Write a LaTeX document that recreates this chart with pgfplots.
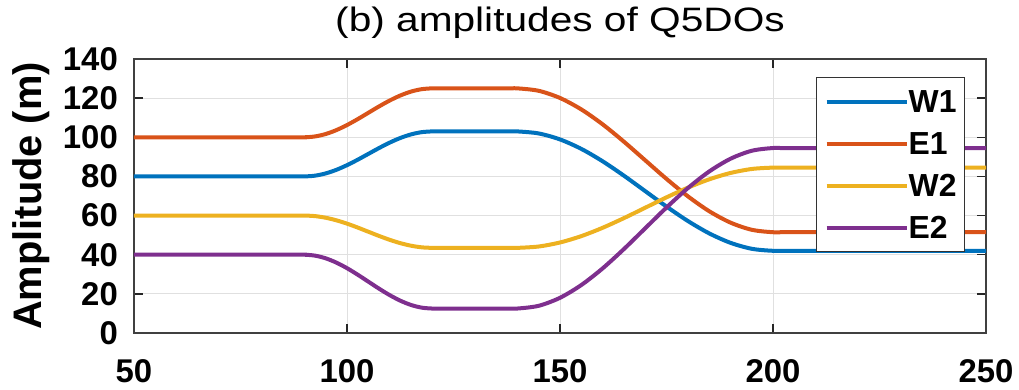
\documentclass[border=0pt]{standalone}
\usepackage{fontspec}
\setmainfont{Liberation Sans}
\newfontfamily\titlefont[FakeStretch=1.2]{Liberation Sans}
\usepackage{pgfplots}
\pgfplotsset{compat=1.18}
\definecolor{mblue}{rgb}{0,0.447,0.741}
\definecolor{morange}{rgb}{0.85,0.325,0.098}
\definecolor{myellow}{rgb}{0.929,0.694,0.125}
\definecolor{mpurple}{rgb}{0.494,0.184,0.556}
\begin{document}
\begin{tikzpicture}
\begin{axis}[
  scale only axis, width=852bp, height=274bp,
  xmin=50, xmax=250, ymin=0, ymax=140,
  xtick={50,100,...,250}, ytick={0,20,...,140},
  /pgf/number format/assume math mode=true,
  tick align=inside, major tick length=9bp,
  tick style={line width=1.5bp, color=black!85},
  axis line style={line width=1.5bp, color=black!75},
  grid=major, major grid style={line width=1bp, color=black!12},
  ticklabel style={font=\bfseries\fontsize{33}{33}\selectfont, inner sep=0pt},
  xticklabel style={anchor=base, yshift=-49bp},
  yticklabel style={anchor=east, xshift=-16bp},
  title={(b) amplitudes of Q5DOs},
  title style={font=\titlefont\fontsize{34}{34}\selectfont, at={(0.5,1)}, anchor=base, yshift=22bp, inner sep=0pt},
  ylabel={Amplitude (m)},
  ylabel style={font=\bfseries\fontsize{40}{40}\selectfont, at={(axis description cs:-0.108,0.5)}, anchor=base, inner sep=0pt},
  legend style={at={(0.9754,0.934)}, anchor=north east, draw=black!80, line width=1bp,
    font=\bfseries\fontsize{32}{32}\selectfont, inner xsep=8bp, inner ysep=13bp, row sep=20bp,
    nodes={inner sep=0pt, text height=22bp, text depth=0bp}},
  legend cell align=left,
  legend image code/.code={\draw[#1, line width=4bp] (0bp,0bp) -- (80bp,0bp);},
  every axis plot/.append style={line width=4bp, smooth, tension=0.5},
]
\addplot[mblue] coordinates {(50,80)(87.5,80)(90,80)(92.5,80.39)(95,81.54)(97.5,83.37)(100,85.75)(102.5,88.52)(105,91.5)(107.5,94.48)(110,97.25)(112.5,99.63)(115,101.46)(117.5,102.61)(120,103)(122.5,103)
 (137.5,103)(140,103)(145,101.96)(150,98.91)(155,94.07)(160,87.75)(165,80.39)(170,72.5)(175,64.61)(180,57.25)(185,50.93)(190,46.09)(195,43.04)(200,42)(205,42)(250,42)};
\addlegendentry{W1}
\addplot[morange] coordinates {(50,100)(87.5,100)(90,100)(92.5,100.43)(95,101.67)(97.5,103.66)(100,106.25)(102.5,109.26)(105,112.5)(107.5,115.74)(110,118.75)(112.5,121.34)(115,123.33)(117.5,124.57)(120,125)(122.5,125)
 (137.5,125)(140,125)(145,123.75)(150,120.08)(155,114.24)(160,106.63)(165,97.76)(170,88.25)(175,78.74)(180,69.88)(185,62.26)(190,56.42)(195,52.75)(200,51.5)(205,51.5)(250,51.5)};
\addlegendentry{E1}
\addplot[myellow] coordinates {(50,60)(87.5,60)(90,60)(92.5,59.72)(95,58.89)(97.5,57.58)(100,55.88)(102.5,53.89)(105,51.75)(107.5,49.61)(110,47.63)(112.5,45.92)(115,44.61)(117.5,43.78)(120,43.5)(122.5,43.5)
 (137.5,43.5)(140,43.5)(145,44.20)(150,46.25)(155,49.50)(160,53.75)(165,58.69)(170,64)(175,69.31)(180,74.25)(185,78.50)(190,81.75)(195,83.80)(200,84.5)(205,84.5)(250,84.5)};
\addlegendentry{W2}
\addplot[mpurple] coordinates {(50,40)(87.5,40)(90,40)(92.5,39.53)(95,38.16)(97.5,35.97)(100,33.13)(102.5,29.81)(105,26.25)(107.5,22.69)(110,19.38)(112.5,16.53)(115,14.34)(117.5,12.97)(120,12.5)(122.5,12.5)
 (137.5,12.5)(140,12.5)(145,13.90)(150,17.99)(155,24.51)(160,33)(165,42.89)(170,53.5)(175,64.11)(180,74)(185,82.49)(190,89.01)(195,93.10)(200,94.5)(205,94.5)(250,94.5)};
\addlegendentry{E2}
\end{axis}
\pgfresetboundingbox
\path ([shift={(-134bp,-57bp)}]current axis.south west) rectangle ([shift={(33bp,59bp)}]current axis.north east);
\end{tikzpicture}
\end{document}
